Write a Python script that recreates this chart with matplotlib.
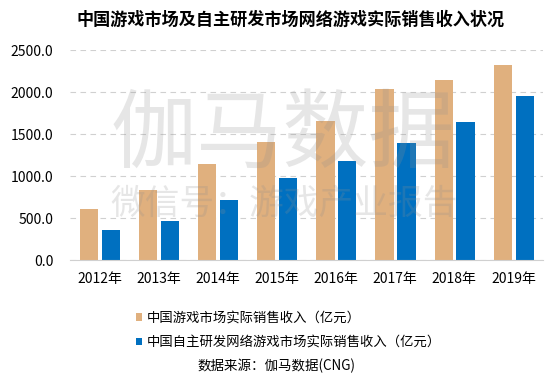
import matplotlib.pyplot as plt
import numpy as np

plt.rcParams['font.family'] = ['Noto Sans CJK SC', 'DejaVu Sans']

# data (亿元)
years = ['2012年', '2013年', '2014年', '2015年', '2016年', '2017年', '2018年', '2019年']
total = [602.8, 831.7, 1144.8, 1407.0, 1655.7, 2036.1, 2144.4, 2330.0]
selfdev = [363.0, 470.0, 720.0, 982.0, 1182.5, 1397.4, 1643.9, 1958.0]

tan = '#E0B07E'
blue = '#0070C0'

fig = plt.figure(figsize=(5.59, 3.77), dpi=100)
ax = fig.add_axes([70/559, 117/377, 473/559, 209.7/377])

x = np.arange(len(years))
w = 0.31
b1 = ax.bar(x - 0.18, total, w, color=tan, zorder=2, label='中国游戏市场实际销售收入（亿元）')
b2 = ax.bar(x + 0.19, selfdev, w, color=blue, zorder=2, label='中国自主研发网络游戏市场实际销售收入（亿元）')

ax.set_xlim(-0.5, len(years) - 0.5)
ax.set_ylim(0, 2500)
ax.set_yticks(np.arange(0, 2501, 500))
ax.set_yticklabels(['%.1f' % v for v in np.arange(0, 2501, 500)], fontsize=10)
ax.set_xticks(x)
ax.set_xticklabels(years, fontsize=10)
ax.tick_params(length=0, pad=12)
ax.tick_params(axis='x', pad=9)
ax.yaxis.grid(True, linestyle=(0, (5, 4)), color='#D0D0D0', linewidth=0.8, zorder=0)
for s in ['top', 'right', 'left']:
    ax.spines[s].set_visible(False)
ax.spines['bottom'].set_color('#D0D0D0')
ax.set_axisbelow(True)

# watermark
fig.text(283/559, 1 - 137/377, '伽马数据', fontsize=62, color='#909090', alpha=0.22,
         fontweight='light', ha='center', va='center', zorder=5)
fig.text(284/559, 1 - 204/377, '微信号：游戏产业报告', fontsize=25, color='#909090', alpha=0.22,
         fontweight='light', ha='center', va='center', zorder=5)

fig.text(291/559, 1 - 20/377, '中国游戏市场及自主研发市场网络游戏实际销售收入状况',
         fontsize=12.3, fontweight='bold', ha='center', va='center')

fig.legend(handles=[b1, b2], loc='upper left', bbox_to_anchor=(129/559, 1 - 304/377),
           frameon=False, fontsize=9.6, handlelength=0.5, handleheight=0.5,
           handletextpad=0.3, labelspacing=0.8, borderpad=0)

fig.text(197/559, 1 - 366/377, '数据来源：伽马数据(CNG)', fontsize=9.7, ha='left', va='center')

fig.savefig('out.png', dpi=100)
